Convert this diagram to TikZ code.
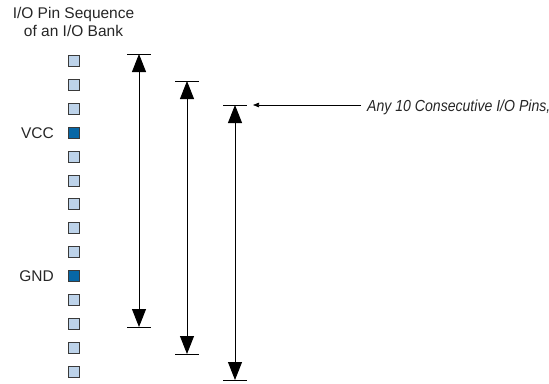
\documentclass[tikz,border=0pt]{standalone}
\usepackage{fontspec}
\setmainfont{Liberation Sans}
\newfontfamily\notefont[FakeStretch=0.88]{Liberation Sans}
\usetikzlibrary{arrows.meta}
\definecolor{pinlight}{HTML}{BDD3EA}
\definecolor{pindark}{HTML}{0767A6}
\definecolor{pinedge}{HTML}{3A3A3A}
\begin{document}
\begin{tikzpicture}[x=1pt,y=-1pt,
  pin/.style={draw=pinedge,line width=0.9pt,fill=pinlight,minimum size=11pt,inner sep=0pt},
  pinpow/.style={pin,fill=pindark},
  lbl/.style={font=\fontsize{15.5}{17.7}\selectfont,text=black!85,inner sep=0pt},
  notestyle/.style={font=\notefont\itshape\fontsize{16}{18}\selectfont,text=black!85,inner sep=0pt},
  span/.style={line width=0.9pt,{Triangle[length=18pt,width=14pt]}-{Triangle[length=18pt,width=14pt]}},
  bar/.style={line width=0.9pt},
  pointer/.style={line width=0.7pt,-{Triangle[length=6pt,width=4.5pt]}}]
\useasboundingbox (0,0) rectangle (549,383);
% title
\node[lbl,align=center,anchor=base] (title) at (73.5,36) {I/O Pin Sequence\\of an I/O Bank};
% pins
\foreach \i in {0,...,13} {
  \pgfmathsetmacro{\yy}{61+23.9*\i}
  \ifnum\i=3
    \node[pinpow] (p\i) at (74,\yy) {};
  \else\ifnum\i=9
    \node[pinpow] (p\i) at (74,\yy) {};
  \else
    \node[pin] (p\i) at (74,\yy) {};
  \fi\fi
}
\node[lbl,anchor=east] (vcc) at ([xshift=-14pt]p3.west) {VCC};
\node[lbl,anchor=east] (gnd) at ([xshift=-14pt]p9.west) {GND};
% spans
\coordinate (a1t) at (139,54);  \coordinate (a1b) at (139,327);
\coordinate (a2t) at (187,81);  \coordinate (a2b) at (187,354);
\coordinate (a3t) at (235,105); \coordinate (a3b) at (235,380);
\foreach \k in {1,2,3} {
  \draw[span] (a\k t) -- (a\k b);
  \draw[bar] ([xshift=-12pt]a\k t) -- ([xshift=12pt]a\k t);
  \draw[bar] ([xshift=-12pt]a\k b) -- ([xshift=12pt]a\k b);
}
% note
\node[notestyle,anchor=base west] (note) at (367,111.5) {Any 10 Consecutive I/O Pins,};
\coordinate (ptip) at (253,105);
\draw[pointer] (note.west |- ptip) ++(-6pt,0) -- (ptip);
\end{tikzpicture}
\end{document}
